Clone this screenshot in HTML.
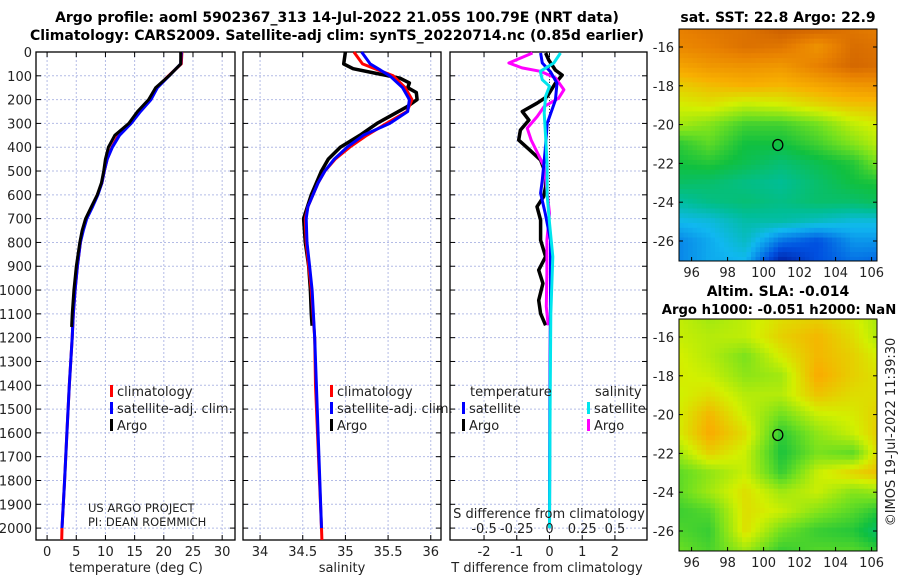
<!DOCTYPE html>
<html><head><meta charset="utf-8">
<style>
body{margin:0;background:#fff;}
svg{display:block;font-family:"DejaVu Sans","Liberation Sans",sans-serif;}
.t{font-size:13px;fill:#222;}
.b{font-weight:bold;font-size:14px;fill:#000;}
</style></head>
<body>
<svg id="chart" width="900" height="580" viewBox="0 0 900 580"></svg>
<script>
// ---------- DATA ----------
const tempDepth = [0,50,100,150,200,250,300,350,400,450,500,550,600,650,700,750,800,900,1000,1100,1200,1400,1600,1800,2000,2050];
const tempClim  = [23.1,23.0,20.8,18.8,17.7,15.9,14.2,12.2,11.1,10.3,9.8,9.4,8.6,7.7,6.7,6.1,5.7,5.2,4.8,4.5,4.3,3.8,3.4,3.0,2.55,2.5];
const tempSat   = [23.0,22.9,20.9,18.9,17.8,16.0,14.4,12.4,11.2,10.3,9.8,9.4,8.7,7.8,6.8,6.2,5.7,5.2,4.8,4.5,4.3,3.8,3.4,3.0,2.55];
const argoTDepth = [0,50,100,150,200,250,300,350,400,450,500,550,600,650,700,750,800,900,1000,1100,1155];
const argoTemp   = [22.9,22.9,20.9,18.6,17.4,15.5,14.0,11.6,10.5,10.0,9.7,9.3,8.6,7.6,6.6,6.0,5.6,5.0,4.6,4.3,4.2];

const salDepth = [0,50,100,150,200,250,300,350,400,450,500,550,600,650,700,800,900,1000,1200,1400,2000,2050];
const salClim  = [35.10,35.20,35.56,35.70,35.78,35.72,35.48,35.25,35.05,34.88,34.76,34.68,34.62,34.56,34.53,34.54,34.57,34.60,34.64,34.65,34.72,34.725];
const salSat   = [35.19,35.29,35.52,35.67,35.75,35.73,35.52,35.21,35.02,34.87,34.76,34.68,34.62,34.56,34.54,34.55,34.58,34.61,34.64,34.66,34.72];
const argoSDepth = [0,50,70,90,110,130,150,170,200,230,270,300,350,400,450,500,600,700,800,900,1000,1100,1150];
const argoSal    = [35.0,34.98,35.09,35.36,35.64,35.75,35.73,35.83,35.84,35.72,35.52,35.37,35.17,34.94,34.80,34.72,34.60,34.51,34.53,34.57,34.59,34.60,34.61];

const dTSatDepth = [4,46,83,131,202,300,412,538,593,677,790,1000,1500,2000];
const dTSat      = [-0.27,-0.22,0.03,0.23,0.18,-0.07,-0.13,-0.22,-0.27,-0.13,0.03,0.03,0.01,0.0];
const dTArgoDepth = [4,34,76,97,131,187,215,250,286,328,370,412,454,510,566,608,650,706,790,860,916,972,1043,1099,1148];
const dTArgo      = [-0.12,-0.02,0.18,0.39,0.18,-0.07,-0.38,-0.83,-0.63,-0.89,-0.94,-0.6,-0.27,-0.12,-0.12,-0.18,-0.38,-0.27,-0.27,-0.12,-0.33,-0.2,-0.33,-0.27,-0.12];
const dSSatDepth = [4,46,81,116,144,186,256,354,475,600,718,860,1100,1500,2000];
const dSSat      = [0.084,0.033,-0.07,-0.056,0.0,-0.03,-0.04,-0.03,-0.018,-0.018,0.0,0.025,0.01,0.005,0.0];
const dSArgoDepth = [4,46,67,81,109,159,194,229,271,320,370,426,482,580,678,790,930,1070,1148];
const dSArgo      = [-0.13,-0.31,-0.21,-0.07,0.046,0.11,0.07,-0.04,-0.094,-0.17,-0.14,-0.09,-0.04,-0.02,0.0,-0.02,-0.02,-0.024,-0.01];

const depthTicks = [0,100,200,300,400,500,600,700,800,900,1000,1100,1200,1300,1400,1500,1600,1700,1800,1900,2000];
const tempTicks = [0,5,10,15,20,25,30];
const salTicks = [34,34.5,35,35.5,36];
const salTickLabels = ["34","34.5","35","35.5","36"];
const dTTicks = [-2,-1,0,1,2];
const dSTicks = [-0.5,-0.25,0,0.25,0.5];
const dSTickLabels = ["-0.5","-0.25","0","0.25","0.5"];

const mapLons = [95,97,99,101,103,105,107];
const mapLats = [-15,-16,-17,-18,-19,-20,-21,-22,-23,-24,-25,-26,-27];
const sstGrid = [
 [0.90,0.92,0.93,0.97,0.96,0.92,0.9],
 [0.88,0.90,0.93,0.92,0.86,0.94,0.92],
 [0.82,0.85,0.86,0.85,0.90,0.95,0.93],
 [0.75,0.78,0.80,0.79,0.82,0.85,0.86],
 [0.70,0.72,0.68,0.70,0.74,0.77,0.78],
 [0.66,0.62,0.55,0.55,0.60,0.68,0.72],
 [0.52,0.58,0.50,0.50,0.55,0.62,0.70],
 [0.50,0.52,0.48,0.44,0.48,0.52,0.65],
 [0.46,0.45,0.42,0.40,0.45,0.50,0.52],
 [0.38,0.42,0.44,0.42,0.45,0.45,0.48],
 [0.30,0.32,0.38,0.38,0.35,0.32,0.32],
 [0.22,0.28,0.35,0.20,0.15,0.25,0.25],
 [0.22,0.28,0.30,0.05,0.15,0.20,0.18]];
const slaGrid = [
 [0.69,0.65,0.68,0.73,0.75,0.71,0.63],
 [0.69,0.67,0.68,0.75,0.79,0.73,0.63],
 [0.71,0.67,0.61,0.71,0.79,0.75,0.68],
 [0.71,0.69,0.63,0.65,0.81,0.75,0.71],
 [0.69,0.73,0.67,0.67,0.77,0.73,0.73],
 [0.69,0.79,0.69,0.60,0.69,0.71,0.77],
 [0.69,0.81,0.73,0.53,0.63,0.69,0.79],
 [0.63,0.75,0.69,0.51,0.61,0.58,0.81],
 [0.57,0.63,0.69,0.54,0.69,0.75,0.79],
 [0.57,0.65,0.73,0.65,0.69,0.62,0.65],
 [0.54,0.57,0.73,0.69,0.62,0.57,0.50],
 [0.57,0.54,0.73,0.60,0.54,0.52,0.42],
 [0.60,0.56,0.65,0.54,0.57,0.57,0.52]];
const mapLonTicks = [96,98,100,102,104,106];
const mapLatTicks = [-16,-18,-20,-22,-24,-26];
const argoLon = 100.79, argoLat = -21.05;

// ---------- HELPERS ----------
const NS = "http://www.w3.org/2000/svg";
const svg = document.getElementById('chart');
function mk(tag, attrs, parent){ const e=document.createElementNS(NS,tag); for(const k in attrs) e.setAttribute(k,attrs[k]); (parent||svg).appendChild(e); return e; }
function txt(x,y,s,cls,anchor,parent){ const e=mk('text',{x:x,y:y,class:cls||'t','text-anchor':anchor||'middle'},parent); e.textContent=s; return e; }

const TOP=52, BOT=540;
const yD = d => TOP + d*(BOT-TOP)/2050;
const panels = [
 {name:'temperature-panel', x0:36, x1:235, lo:-1.9, hi:32.2},
 {name:'salinity-panel', x0:243, x1:441, lo:33.8, hi:36.12},
 {name:'difference-panel', x0:450, x1:647, lo:-3.04, hi:2.98}
];
const sx = (p,v) => p.x0 + (v-p.lo)*(p.x1-p.x0)/(p.hi-p.lo);
const sxS = v => sx(panels[2], v*4);

function gridAndFrame(p, xticks){
  const g = mk('g',{});
  
  
  depthTicks.forEach(d=>{
    const l=mk('line',{x1:p.x0,x2:p.x1,y1:yD(d),y2:yD(d),stroke:'#b4bce6','stroke-dasharray':'2,2','stroke-width':1},g);
    
    
    mk('line',{x1:p.x0,x2:p.x0+5,y1:yD(d),y2:yD(d),stroke:'#000'},g);
    mk('line',{x1:p.x1-5,x2:p.x1,y1:yD(d),y2:yD(d),stroke:'#000'},g);
  });
  xticks.forEach(v=>{
    const x=sx(p,v);
    const l=mk('line',{x1:x,x2:x,y1:TOP,y2:BOT,stroke:'#b4bce6','stroke-dasharray':'2,2','stroke-width':1},g);
    
    
    mk('line',{x1:x,x2:x,y1:BOT,y2:BOT-5,stroke:'#000'},g);
    mk('line',{x1:x,x2:x,y1:TOP,y2:TOP+5,stroke:'#000'},g);
  });
  const r=mk('rect',{x:p.x0,y:TOP,width:p.x1-p.x0,height:BOT-TOP,fill:'none',stroke:'#000','stroke-width':1.3},g);
  
  
  return g;
}
function line(xs, ds, fx, color, w, name, parent){
  const pts = xs.map((v,i)=>fx(v).toFixed(1)+','+yD(ds[i]).toFixed(1)).join(' ');
  const e = mk('polyline',{points:pts,fill:'none',stroke:color,'stroke-width':w,'stroke-linejoin':'round'},parent);
  
  
  return e;
}

const t1 = txt(337,22,'Argo profile: aoml 5902367_313 14-Jul-2022 21.05S 100.79E (NRT data)','b');


const t2 = txt(337,40,'Climatology: CARS2009. Satellite-adj clim: synTS_20220714.nc (0.85d earlier)','b');



depthTicks.forEach(d=>{
  const e = txt(32, yD(d)+5, String(d), 't', 'end');
  
  
});

const P1=panels[0];
const g1 = gridAndFrame(P1, tempTicks);
tempTicks.forEach(v=>{ const e=txt(sx(P1,v),556,String(v));   });
const xt1 = txt(136,572,'temperature (deg C)');  
line(tempClim, tempDepth, v=>sx(P1,v), '#ff0000', 3, 'temp-climatology-line', g1);
line(tempSat, tempDepth.slice(0,tempSat.length), v=>sx(P1,v), '#0000ff', 3, 'temp-satellite-line', g1);
line(argoTemp, argoTDepth, v=>sx(P1,v), '#000000', 3, 'temp-argo-line', g1);

const P2=panels[1];
const g2 = gridAndFrame(P2, salTicks);
salTicks.forEach((v,i)=>{ const e=txt(sx(P2,v),556,salTickLabels[i]);   });
const xt2 = txt(342,572,'salinity');  
line(argoSal, argoSDepth, v=>sx(P2,v), '#000000', 3.5, 'salinity-argo-line', g2);
line(salClim, salDepth, v=>sx(P2,v), '#ff0000', 3, 'salinity-climatology-line', g2);
line(salSat, salDepth.slice(0,salSat.length), v=>sx(P2,v), '#0000ff', 3, 'salinity-satellite-line', g2);

const P3=panels[2];
const g3 = gridAndFrame(P3, dTTicks);
const zl = mk('line',{x1:sx(P3,0),x2:sx(P3,0),y1:TOP,y2:yD(1200),stroke:'#333','stroke-dasharray':'1,2'},g3);


dTTicks.forEach(v=>{ const e=txt(sx(P3,v),556,String(v));   });
dSTicks.forEach((v,i)=>{ const e=txt(sxS(v),533,dSTickLabels[i]);   });
const xt3 = txt(547,572,'T difference from climatology');  
const xs3 = txt(549,518,'S difference from climatology');  
line(dTArgo, dTArgoDepth, v=>sx(P3,v), '#000000', 3.5, 't-diff-argo-line', g3);
line(dSArgo, dSArgoDepth, v=>sxS(v), '#ff00ff', 3, 's-diff-argo-line', g3);
line(dTSat, dTSatDepth, v=>sx(P3,v), '#0000ff', 3, 't-diff-satellite-line', g3);
line(dSSat, dSSatDepth, v=>sxS(v), '#00e5ee', 3, 's-diff-satellite-line', g3);

function legItem(x,y,color,label,name){
  const g=mk('g',{});
  
  
  mk('rect',{x:x,y:y-11,width:3,height:12,fill:color},g);
  txt(x+7,y,label,'t','start',g);
}
legItem(110,396,'#ff0000','climatology','legend-climatology');
legItem(110,413,'#0000ff','satellite-adj. clim.','legend-satellite-adj');
legItem(110,430,'#000000','Argo','legend-argo');
legItem(330,396,'#ff0000','climatology','legend2-climatology');
legItem(330,413,'#0000ff','satellite-adj. clim.','legend2-satellite-adj');
legItem(330,430,'#000000','Argo','legend2-argo');
const lt = txt(470,396,'temperature','t','start');  
const ls = txt(595,396,'salinity','t','start');  
legItem(462,413,'#0000ff','satellite','legend-t-satellite');
legItem(462,430,'#000000','Argo','legend-t-argo');
legItem(587,413,'#00e5ee','satellite','legend-s-satellite');
legItem(587,430,'#ff00ff','Argo','legend-s-argo');

const c1 = txt(88,512,'US ARGO PROJECT','t','start'); c1.setAttribute('style','font-size:11.5px');  
const c2 = txt(88,526,'PI: DEAN ROEMMICH','t','start'); c2.setAttribute('style','font-size:11.5px');  

// ---------- MAPS ----------
const cstops = [[0,[0,16,143]],[0.15,[0,80,224]],[0.3,[16,184,240]],[0.4,[0,190,150]],[0.5,[16,192,64]],[0.6,[112,224,32]],[0.7,[210,240,0]],[0.8,[248,176,0]],[0.9,[232,128,0]],[1,[192,80,0]]];
function cmap(v){
  v=Math.max(0,Math.min(1,v));
  for(let i=1;i<cstops.length;i++){ if(v<=cstops[i][0]){ const a=cstops[i-1],b=cstops[i]; const f=(v-a[0])/(b[0]-a[0]); return 'rgb('+a[1].map((c,k)=>Math.round(c+f*(b[1][k]-c))).join(',')+')'; } }
  return 'rgb(192,80,0)';
}
function sample(grid, lon, lat){
  let fx=(lon-mapLons[0])/(mapLons[1]-mapLons[0]), fy=(mapLats[0]-lat);
  fx=Math.max(0,Math.min(mapLons.length-1.001,fx)); fy=Math.max(0,Math.min(mapLats.length-1.001,fy));
  const i=Math.floor(fx), j=Math.floor(fy), a=fx-i, b=fy-j;
  return grid[j][i]*(1-a)*(1-b)+grid[j][i+1]*a*(1-b)+grid[j+1][i]*(1-a)*b+grid[j+1][i+1]*a*b;
}
function drawMap(name, grid, x0,x1,y0,y1, latAt16, latAt26){
  const g=mk('g',{});
  
  
  const lonPx = (x1-x0)/(106.3-95.3);
  const fxl = lon => x0 + (lon-95.3)*lonPx;
  const latPx = (latAt26-latAt16)/10;
  const fyl = lat => latAt16 + (-16-lat)*latPx;
  const latTop = -16 + (latAt16-y0)/latPx, latBot = -16 - (y1-latAt16)/latPx;
  const step=0.25;
  for(let lat=latTop; lat>latBot; lat-=step){
    for(let lon=95.3; lon<106.3; lon+=step){
      const v=sample(grid, lon+step/2, lat-step/2);
      mk('rect',{x:fxl(lon).toFixed(2),y:fyl(lat).toFixed(2),width:(step*lonPx+0.6).toFixed(2),height:(step*latPx+0.6).toFixed(2),fill:cmap(v)},g);
    }
  }
  mk('rect',{x:x1,y:y0-2,width:20,height:y1-y0+4,fill:'#fff'},g);
  mk('rect',{x:x0-20,y:y0-2,width:20,height:y1-y0+4,fill:'#fff'},g);
  mk('rect',{x:x0,y:y1,width:x1-x0,height:20,fill:'#fff'},g);
  mk('rect',{x:x0,y:y0-20,width:x1-x0,height:20,fill:'#fff'},g);
  mk('rect',{x:x0,y:y0,width:x1-x0,height:y1-y0,fill:'none',stroke:'#000','stroke-width':1},g);
  mapLonTicks.forEach(l=>{ const x=fxl(l); mk('line',{x1:x,x2:x,y1:y1,y2:y1-4,stroke:'#000'},g); const e=txt(x,y1+16,String(l),'t','middle',g);   });
  mapLatTicks.forEach(l=>{ const y=fyl(l); mk('line',{x1:x0,x2:x0+4,y1:y,y2:y,stroke:'#000'},g); mk('line',{x1:x1,x2:x1-4,y1:y,y2:y,stroke:'#000'},g); const e=txt(x0-5,y+5,String(l),'t','end',g);   });
  const c=mk('ellipse',{cx:fxl(argoLon),cy:fyl(argoLat),rx:5,ry:5.5,fill:'none',stroke:'#000','stroke-width':1.3},g);
  
  
}
drawMap('sst-map', sstGrid, 679,877,29,261, 47,241);
drawMap('sla-map', slaGrid, 679,877,319,551, 337,531);
const m1=txt(778,22,'sat. SST: 22.8 Argo: 22.9','b');  
const m2=txt(778,296,'Altim. SLA: -0.014','b');  
const m3=txt(779,314,'Argo h1000: -0.051 h2000: NaN','b'); m3.setAttribute('style','font-size:13.2px');  
const im=txt(0,0,'©IMOS 19-Jul-2022 11:39:30','t','middle'); im.setAttribute('transform','translate(895,432) rotate(-90)');  
</script>
</body></html>
